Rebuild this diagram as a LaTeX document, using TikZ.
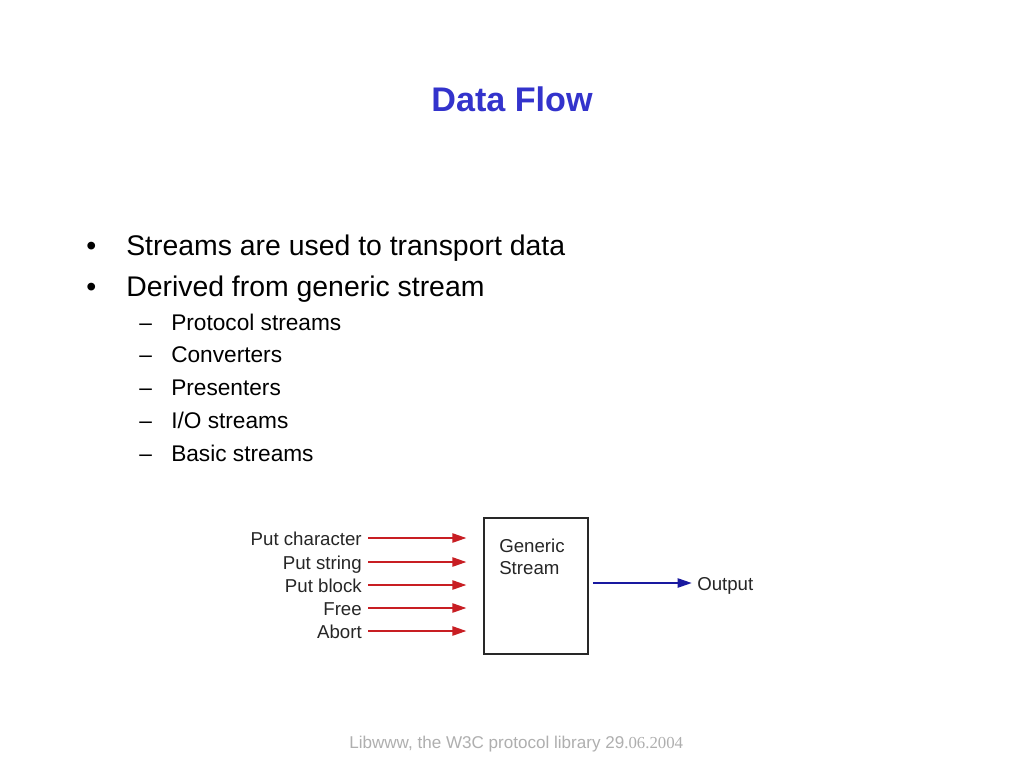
\documentclass[tikz,border=0pt]{standalone}
\usepackage{fontspec}
\setmainfont{Liberation Sans}
\newfontfamily\seriffont{Liberation Serif}
\usetikzlibrary{arrows.meta}
\definecolor{titleblue}{RGB}{51,51,204}
\definecolor{arrred}{RGB}{200,30,35}
\definecolor{arrblue}{RGB}{25,25,160}
\definecolor{footgray}{RGB}{175,175,175}
\definecolor{boxline}{RGB}{40,40,40}
\tikzset{
  body/.style={anchor=base west, inner sep=0pt, font=\fontsize{21.3pt}{25pt}\selectfont},
  sub/.style={anchor=base west, inner sep=0pt, font=\fontsize{17pt}{20pt}\selectfont},
  lab/.style={anchor=base east, inner sep=0pt, font=\fontsize{14pt}{16.5pt}\selectfont, text=black!85},
  inarrow/.style={draw=arrred, line width=1.1pt, -{Triangle[length=10.5pt,width=7pt]}, color=arrred},
  outarrow/.style={draw=arrblue, line width=1pt, -{Triangle[length=10.5pt,width=7pt]}, color=arrblue},
}
\begin{document}
\begin{tikzpicture}[x=0.75pt,y=-0.75pt]
\useasboundingbox[fill=white] (0,0) rectangle (1024,768);
% title
\node[anchor=base, inner sep=0pt, font=\fontsize{25.6pt}{30pt}\selectfont\bfseries, text=titleblue] (title) at (512,111) {Data Flow};
% bullets
\node[body] (b1m) at (86,255) {•};
\node[body] (b1) at (126,255) {Streams are used to transport data};
\node[body] (b2m) at (86,296) {•};
\node[body] (b2) at (126,296) {Derived from generic stream};
\node[sub] (s1m) at (139,330) {–};
\node[sub] (s1) at (171,330) {Protocol streams};
\node[sub] (s2m) at (139,362) {–};
\node[sub] (s2) at (171,362) {Converters};
\node[sub] (s3m) at (139,395) {–};
\node[sub] (s3) at (171,395) {Presenters};
\node[sub] (s4m) at (139,428) {–};
\node[sub] (s4) at (171,428) {I/O streams};
\node[sub] (s5m) at (139,461) {–};
\node[sub] (s5) at (171,461) {Basic streams};
% diagram
\node[draw=boxline, line width=1.4pt, anchor=north west, minimum width=78pt, minimum height=102pt, inner sep=0pt] (box) at (483,517) {};
\node[anchor=north west, inner sep=0pt, align=left, font=\fontsize{14pt}{16.5pt}\selectfont, text=black!85] (gs) at (499,539) {Generic\\Stream};
\node[lab] (l1) at (362,545) {Put character};
\node[lab] (l2) at (362,569) {Put string};
\node[lab] (l3) at (362,592) {Put block};
\node[lab] (l4) at (362,615) {Free};
\node[lab] (l5) at (362,638) {Abort};
\coordinate (r1) at (368,538);
\coordinate (r2) at (368,562);
\coordinate (r3) at (368,585);
\coordinate (r4) at (368,608);
\coordinate (r5) at (368,631);
\foreach \i in {1,...,5}{
  \draw[inarrow, shorten >=12.5pt] (l\i.east |- r\i) ++(6,0) -- (box.west |- r\i);
}
\node[anchor=base west, inner sep=0pt, font=\fontsize{14pt}{16.5pt}\selectfont, text=black!85] (out) at (697,590) {Output};
\coordinate (o1) at (591,583);
\draw[outarrow, shorten <=3pt, shorten >=4pt] (box.east |- o1) -- (out.west |- o1);
% footer
\node[anchor=base west, inner sep=0pt, text=footgray, font=\fontsize{12.8pt}{15pt}\selectfont] (foot) at (349,748) {Libwww, the W3C protocol library 29{\seriffont\fontsize{12.6pt}{14pt}\selectfont .06.2004}};
\end{tikzpicture}
\end{document}
